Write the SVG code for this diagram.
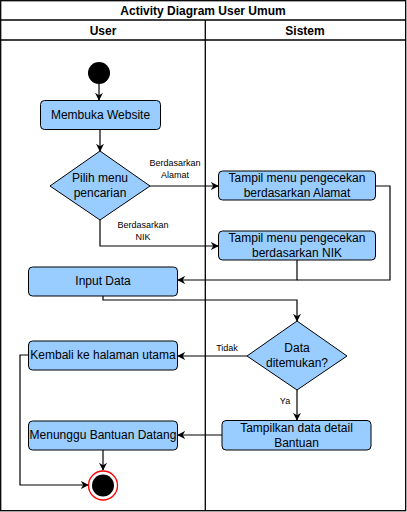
<svg xmlns="http://www.w3.org/2000/svg" width="407" height="512" viewBox="0 0 407 512">
<defs>
<marker id="ah" viewBox="0 0 10 10" refX="9" refY="5" markerWidth="8" markerHeight="8" markerUnits="userSpaceOnUse" orient="auto">
<path d="M0,0 L10,5 L0,10 L3,5 Z" fill="#000"/>
</marker>
<style>
.frame{fill:#fff;stroke:#000;stroke-width:1.3}
.node{fill:#99CCFF;stroke:#000;stroke-width:1}
.t{font-family:"Liberation Sans",Arial,sans-serif;font-size:12px;fill:#000;text-anchor:middle}
.h{font-family:"Liberation Sans",Arial,sans-serif;font-size:12px;font-weight:bold;fill:#000;text-anchor:middle}
.l{font-family:"Liberation Sans",Arial,sans-serif;font-size:9px;fill:#000;text-anchor:middle}
.c{fill:none;stroke:#000;stroke-width:1.2;marker-end:url(#ah)}
.cn{fill:none;stroke:#000;stroke-width:1.2}
</style>
</defs>
<g id="pool">
<rect class="frame" x="0.7" y="0.7" width="405" height="510"/>
<line x1="0.7" y1="20" x2="405.7" y2="20" stroke="#000" stroke-width="1.3"/>
<line x1="0.7" y1="40" x2="405.7" y2="40" stroke="#000" stroke-width="1.3"/>
<line x1="205.3" y1="20" x2="205.3" y2="510.7" stroke="#000" stroke-width="1.3"/>
<text class="h" x="203" y="15">Activity Diagram User Umum</text>
<text class="h" x="103" y="35">User</text>
<text class="h" x="305" y="35">Sistem</text>
</g>
<g id="connectors">
<path class="c" d="M99,84 V100"/>
<path class="c" d="M100,130 V151"/>
<path class="c" d="M150,186 H218"/>
<path class="c" d="M100,220 V246 H218"/>
<path class="cn" d="M376,186 H390 V280 H297"/>
<path class="c" d="M297,260 V280 H178"/>
<path class="c" d="M103,296 V300 H297 V321"/>
<path class="c" d="M247,356 H178"/>
<path class="c" d="M297,390 V420"/>
<path class="c" d="M222,435 H178"/>
<path class="c" d="M103,450 V470"/>
<path class="c" d="M28,355 H20 V485 H88"/>
<text class="l" x="175" y="166">Berdasarkan</text>
<text class="l" x="175" y="178">Alamat</text>
<text class="l" x="143" y="228">Berdasarkan</text>
<text class="l" x="143" y="240">NIK</text>
<text class="l" x="227" y="351">Tidak</text>
<text class="l" x="285" y="404">Ya</text>
</g>
<g id="start"><circle cx="99" cy="73" r="11" fill="#000"/></g>
<g id="membuka"><rect class="node" x="40.5" y="100.5" width="120" height="29" rx="4"/><text class="t" x="100.5" y="119">Membuka Website</text></g>
<g id="pilih"><path class="node" d="M100,151 L150,186 L100,220 L50,186 Z"/><text class="t" x="100" y="182">Pilih menu</text><text class="t" x="100" y="197">pencarian</text></g>
<g id="alamat"><rect class="node" x="218.5" y="171" width="157" height="29" rx="4"/><text class="t" x="297" y="182">Tampil menu pengecekan</text><text class="t" x="297" y="197">berdasarkan Alamat</text></g>
<g id="nik"><rect class="node" x="218.5" y="231" width="157" height="29" rx="4"/><text class="t" x="297" y="242">Tampil menu pengecekan</text><text class="t" x="297" y="257">berdasarkan NIK</text></g>
<g id="input"><rect class="node" x="28.5" y="267" width="149" height="29" rx="4"/><text class="t" x="103" y="285">Input Data</text></g>
<g id="ditemukan"><path class="node" d="M297,321 L347,356 L297,390 L247,356 Z"/><text class="t" x="297" y="352">Data</text><text class="t" x="297" y="367">ditemukan?</text></g>
<g id="kembali"><rect class="node" x="28.5" y="341" width="149" height="29" rx="4"/><text class="t" x="103" y="359">Kembali ke halaman utama</text></g>
<g id="tampilkan"><rect class="node" x="222" y="420.5" width="149" height="29.5" rx="4"/><text class="t" x="296.5" y="432">Tampilkan data detail</text><text class="t" x="296.5" y="447">Bantuan</text></g>
<g id="menunggu"><rect class="node" x="28.5" y="421" width="149" height="29" rx="4"/><text class="t" x="103" y="439">Menunggu Bantuan Datang</text></g>
<g id="end"><circle cx="103" cy="485.5" r="14.5" fill="#fff" stroke="#FF0000" stroke-width="1.3"/><circle cx="103" cy="485.5" r="11" fill="#000"/></g>
</svg>
